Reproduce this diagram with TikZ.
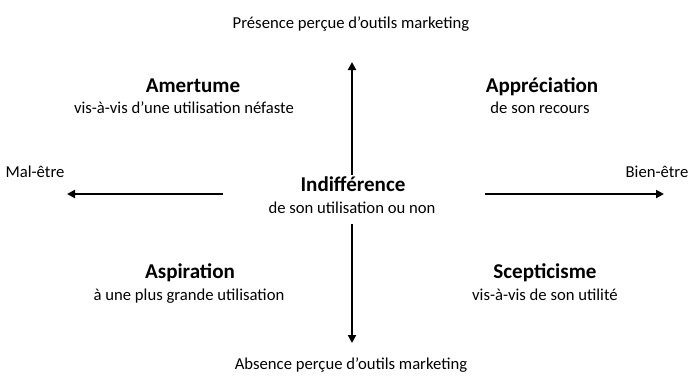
\documentclass[tikz,border=0pt]{standalone}
\usepackage{fontspec}
\setmainfont{Carlito}
\usetikzlibrary{arrows.meta}

\begin{document}
\begin{tikzpicture}[x=0.75pt,y=-0.75pt,font=\fontsize{12.5}{15}\selectfont,
  every node/.style={anchor=base,inner sep=0pt},
  axe/.style={line width=2pt,-{Triangle[length=6pt,width=6pt]}},
  titre/.style={font=\fontsize{15.8}{18}\selectfont\bfseries}]
  \useasboundingbox (0,0) rectangle (693,376);
  \node (haut) at (351,28)  {Présence perçue d’outils marketing};
  \node (bas) at (351,369)  {Absence perçue d’outils marketing};
  \node (mal) at (35,177)  {Mal-être};
  \node (bien) at (657,177)  {Bien-être};
  \node[titre] (ind) at (353,191)  {Indifférence};
  \node (indb) at (352,213)  {de son utilisation ou non};
  \node[titre] (amer) at (193,92)  {Amertume};
  \node (amerb) at (184,113)  {vis-à-vis d’une utilisation néfaste};
  \node[titre] (appr) at (542,92)  {Appréciation};
  \node (apprb) at (540,113)  {de son recours};
  \node[titre] (asp) at (190,278)  {Aspiration};
  \node (aspb) at (189,300)  {à une plus grande utilisation};
  \node[titre] (scep) at (545,278)  {Scepticisme};
  \node (scepb) at (545,300)  {vis-à-vis de son utilité};
  \coordinate (n1) at (352,175);
  \coordinate (n2) at (352,62);
  \coordinate (s1) at (352,224);
  \coordinate (s2) at (352,343);
  \coordinate (o1) at (223,194);
  \coordinate (o2) at (67,194);
  \coordinate (e1) at (485,194);
  \coordinate (e2) at (664,194);
  \draw[axe] (n1) -- (n2);
  \draw[axe] (s1) -- (s2);
  \draw[axe] (o1) -- (o2);
  \draw[axe] (e1) -- (e2);
\end{tikzpicture}
\end{document}
